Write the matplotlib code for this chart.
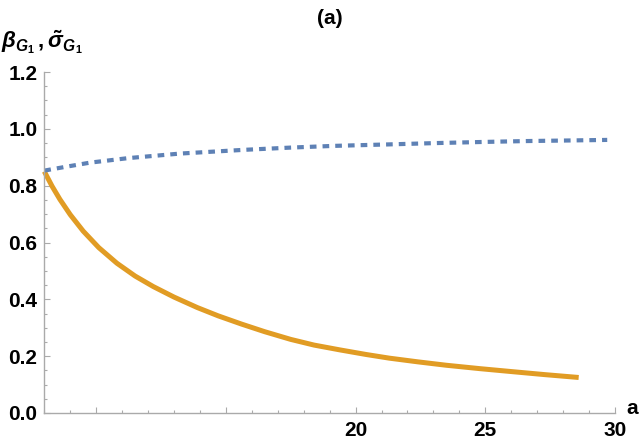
import matplotlib
matplotlib.use("Agg")
import matplotlib.pyplot as plt
from matplotlib.ticker import MultipleLocator, FixedLocator, FixedFormatter

plt.rcParams['font.family'] = ['Liberation Sans', 'DejaVu Sans']
plt.rcParams['font.weight'] = 'bold'
plt.rcParams['mathtext.fontset'] = 'custom'
plt.rcParams['mathtext.rm'] = 'Liberation Sans:bold'
plt.rcParams['mathtext.it'] = 'Liberation Sans:italic:bold'
plt.rcParams['mathtext.bf'] = 'Liberation Sans:bold'

# data
a_beta = [8.0, 8.3, 8.6, 9.0, 9.5, 10.1, 10.8, 11.5, 12.2, 13.0, 13.9, 14.7,
          15.6, 16.5, 17.5, 18.4, 19.4, 20.4, 21.3, 22.4, 23.5, 24.8, 26.1,
          27.3, 28.6]
beta = [0.850, 0.798, 0.752, 0.698, 0.640, 0.582, 0.527, 0.482, 0.445, 0.408,
        0.371, 0.342, 0.313, 0.286, 0.259, 0.239, 0.222, 0.206, 0.193, 0.180,
        0.168, 0.156, 0.145, 0.135, 0.125]

a_sigma = [8.0, 8.8, 9.76, 11.24, 13.24, 15.68, 17.5, 19.16, 21.2, 23.15,
           25.0, 26.6, 28.2, 29.7]
sigma = [0.853, 0.866, 0.881, 0.897, 0.913, 0.926, 0.934, 0.940, 0.945,
         0.950, 0.954, 0.957, 0.959, 0.961]

xticks_major = [10, 15, 20, 25, 30]
xtick_labels = ['', '', '20', '25', '30']
yticks_major = [0.0, 0.2, 0.4, 0.6, 0.8, 1.0, 1.2]

blue = '#5E81B5'
orange = '#E19C24'
axis_gray = '#aaaaaa'

fig = plt.figure(figsize=(6.43, 4.47), dpi=100)
ax = fig.add_axes([44.3/643, 34/447, (615-44.3)/643, (413-72)/447])

ax.plot(a_beta, beta, color=orange, lw=3.6, solid_capstyle='butt',
        solid_joinstyle='round', clip_on=False)
ax.plot(a_sigma, sigma, color=blue, lw=3.0, linestyle=(0, (1.6, 1.45)),
        dash_capstyle='butt', clip_on=False)

ax.set_xlim(8, 30)
ax.set_ylim(0, 1.2)

for s in ['top', 'right']:
    ax.spines[s].set_visible(False)
for s in ['left', 'bottom']:
    ax.spines[s].set_color(axis_gray)
    ax.spines[s].set_linewidth(1.0)

ax.xaxis.set_major_locator(FixedLocator(xticks_major))
ax.xaxis.set_major_formatter(FixedFormatter(xtick_labels))
ax.xaxis.set_minor_locator(MultipleLocator(1))
ax.yaxis.set_major_locator(FixedLocator(yticks_major))
ax.set_yticklabels([f'{v:.1f}' for v in yticks_major])
ax.yaxis.set_minor_locator(MultipleLocator(0.05))

ax.tick_params(which='both', direction='in', color=axis_gray, width=0.8)
ax.tick_params(which='major', length=4.5, labelsize=15, labelcolor='black')
ax.tick_params(which='minor', length=2.5)
ax.tick_params(axis='x', which='major', pad=6)
ax.tick_params(axis='y', which='major', pad=5)
for lab in ax.get_xticklabels() + ax.get_yticklabels():
    lab.set_fontweight('bold')

fig.text(329.6/643, 1 - 18/447, '(a)', ha='center', va='center',
         fontsize=15, fontweight='bold')
fig.text(1/643, 1 - 42/447, r'$\beta_{G_1}\,,\tilde{\sigma}_{G_1}$', ha='left',
         va='center', fontsize=16)
fig.text(626/643, 1 - 409/447, 'a', ha='left', va='center', fontsize=15,
         fontweight='bold')

fig.savefig('out.png', dpi=100)
